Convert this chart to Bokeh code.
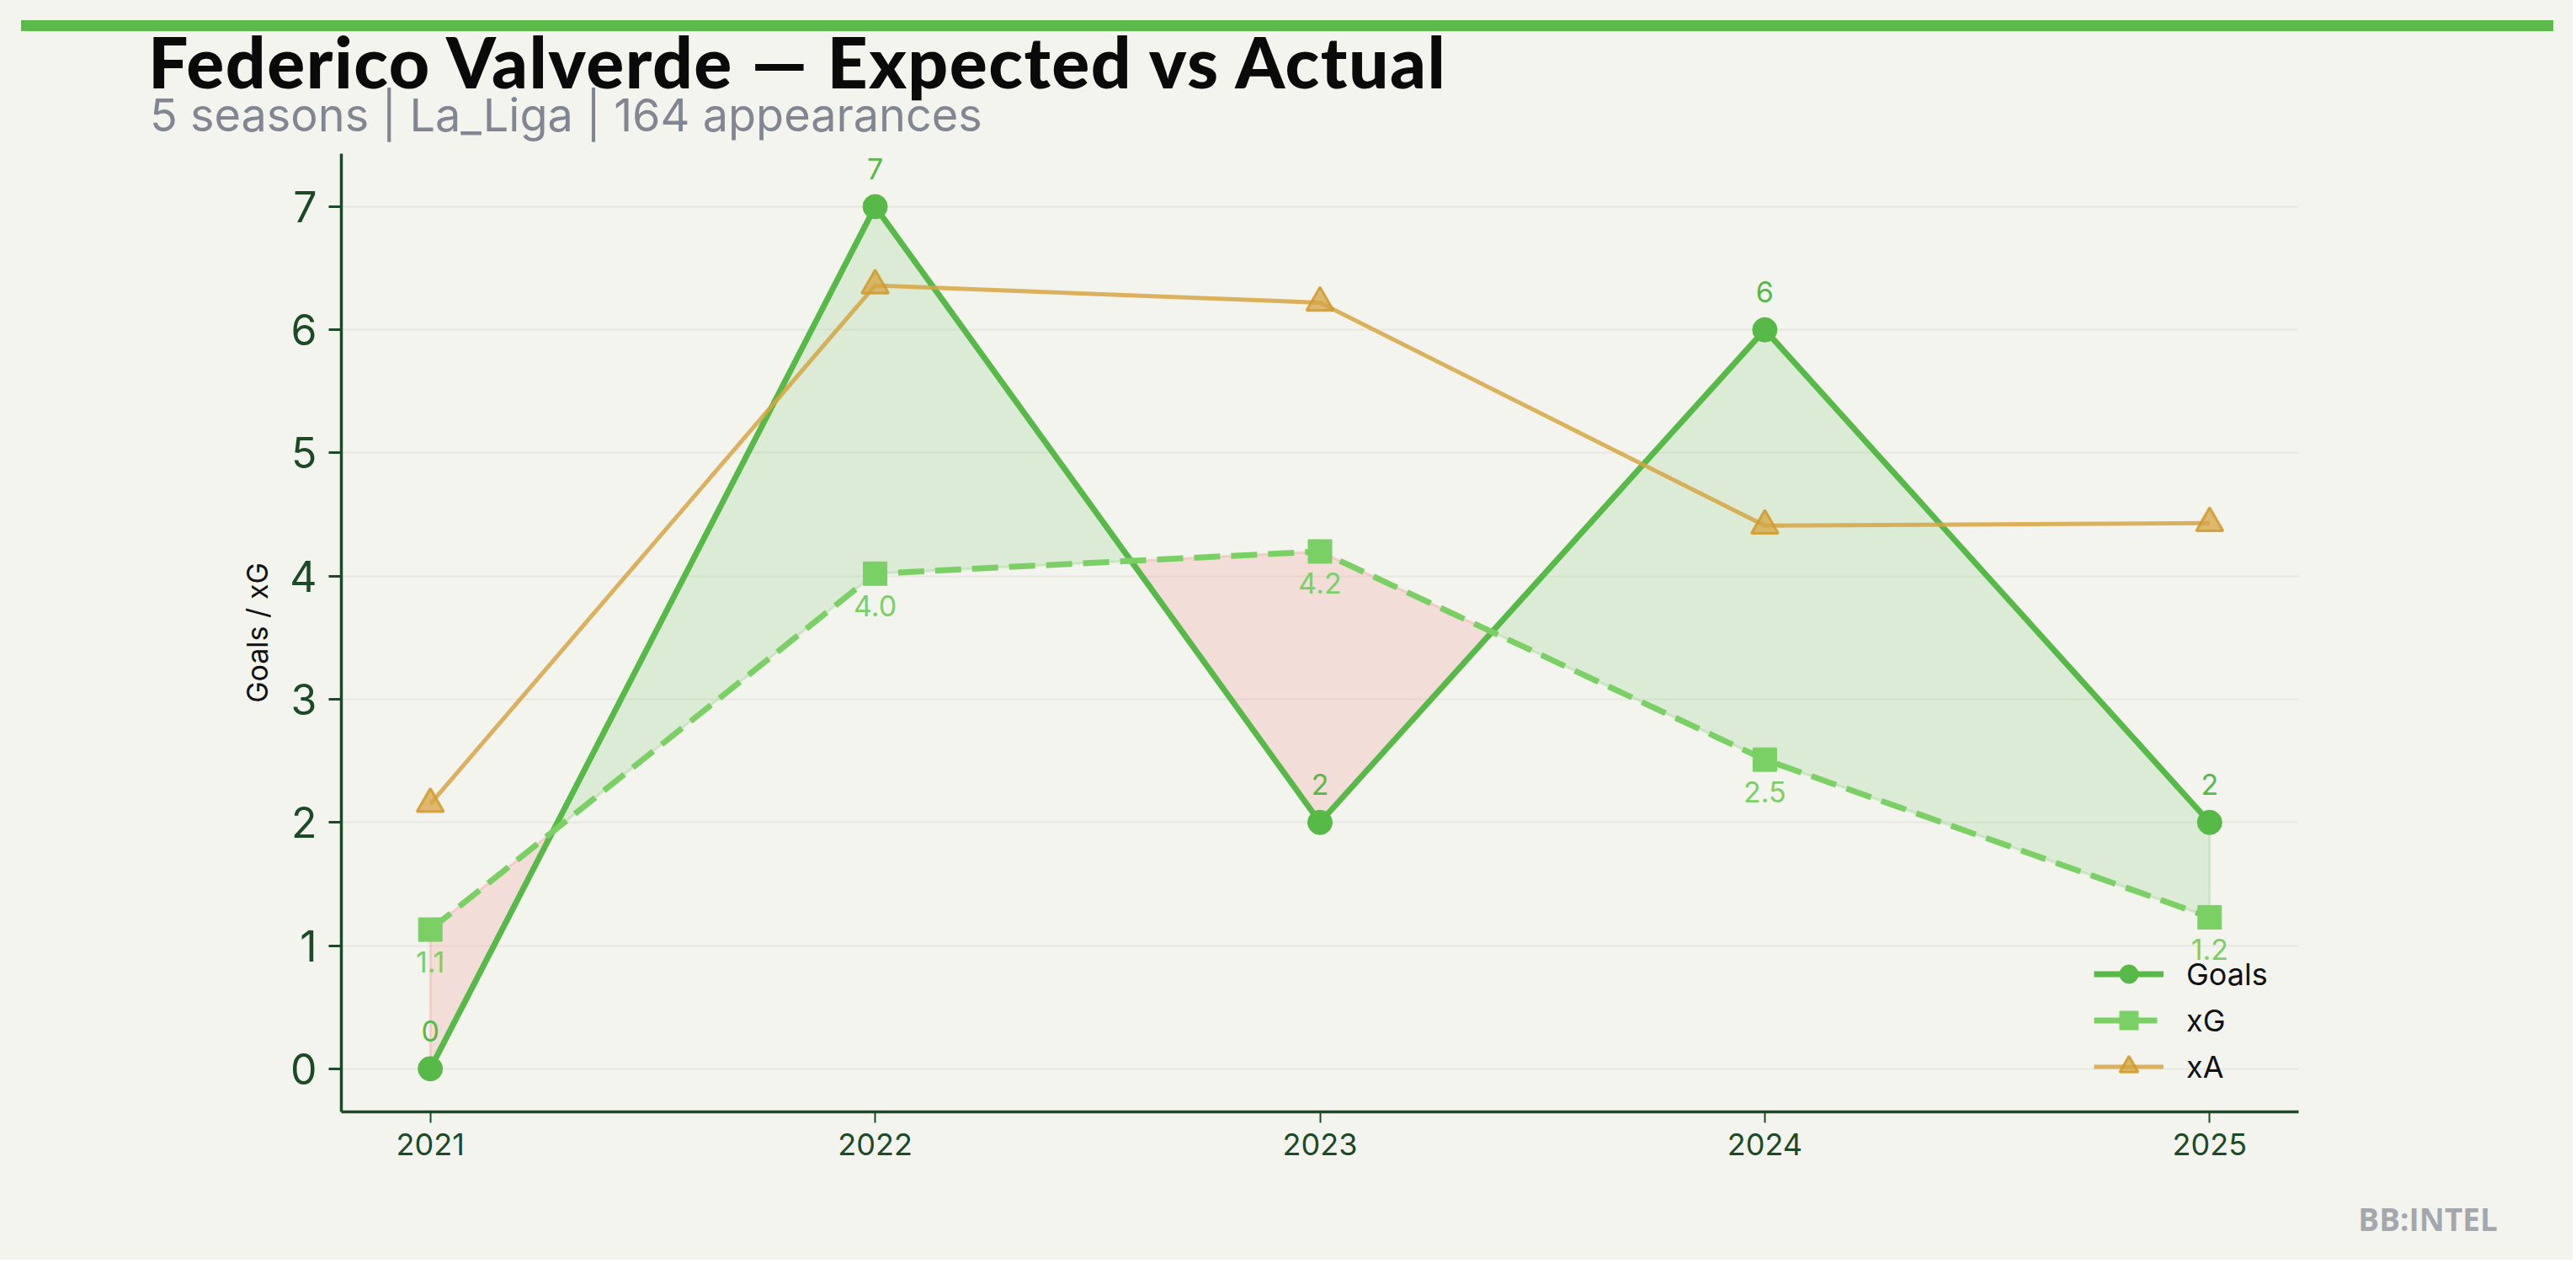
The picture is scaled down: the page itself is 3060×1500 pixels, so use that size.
from bokeh.plotting import figure
from bokeh.layouts import column
from bokeh.models import (ColumnDataSource, Range1d, LabelSet, Legend,
                          LegendItem, FixedTicker, Div)
from bokeh.core.properties import value
from bokeh.embed import file_html
from bokeh.resources import INLINE

# ---- data ----
seasons = [2021, 2022, 2023, 2024, 2025]
goals = [0, 7, 2, 6, 2]
xg = [1.13, 4.02, 4.20, 2.51, 1.23]
xa = [2.15, 6.36, 6.22, 4.41, 4.43]
goal_labels = [str(g) for g in goals]
xg_labels = [f"{v:.1f}" for v in xg]
y_ticks = [0, 1, 2, 3, 4, 5, 6, 7]

title_text = "Federico Valverde \u2014 Expected vs Actual"
subtitle_text = "5 seasons | La_Liga | 164 appearances"
watermark_text = "BB:INTEL"

BG = "#f4f4ef"
GREEN = "#57b947"
XG_C = "#7bd065"
XA_C = "#d6a443"
RED = "#f0605a"
DARK = "#1b4a26"


def regions(xs, a, b):
    pts = []
    n = len(xs)
    for i in range(n):
        pts.append((xs[i], a[i], b[i], False))
        if i < n - 1:
            d0 = a[i] - b[i]
            d1 = a[i + 1] - b[i + 1]
            if d0 * d1 < 0:
                t = d0 / (d0 - d1)
                xc = xs[i] + t * (xs[i + 1] - xs[i])
                yc = a[i] + t * (a[i + 1] - a[i])
                pts.append((xc, yc, yc, True))
    runs, cur, sign = [], [], None
    for x, ya, yb, cross in pts:
        cur.append((x, ya, yb))
        if cross:
            runs.append((cur, sign))
            cur, sign = [(x, ya, yb)], None
        elif sign is None:
            sign = ya >= yb
    runs.append((cur, sign))
    pos, neg = ([], []), ([], [])
    for run, s in runs:
        px = [r[0] for r in run] + [r[0] for r in reversed(run)]
        py = [r[1] for r in run] + [r[2] for r in reversed(run)]
        tgt = pos if s else neg
        tgt[0].append(px)
        tgt[1].append(py)
    return pos, neg


TOTAL_W, TOTAL_H = 3056, 1496
HEAD_H = 170
P_END = 1410
FOOT_H = TOTAL_H - P_END
W, H = TOTAL_W, P_END - HEAD_H
FRAME_TOP, FRAME_BOTTOM = 182 - HEAD_H, 1320 - HEAD_H

p = figure(width=W, height=H, output_backend="svg", toolbar_location=None,
           x_range=Range1d(2020.8, 2025.2), y_range=Range1d(-0.35, 7.43),
           min_border_left=405, min_border_right=W - 2730,
           min_border_top=FRAME_TOP, min_border_bottom=H - FRAME_BOTTOM,
           background_fill_color=BG, border_fill_color=BG)
p.outline_line_color = None

pos, neg = regions(seasons, goals, xg)
p.patches(xs=pos[0], ys=pos[1], fill_color=GREEN, fill_alpha=0.15,
          line_color=GREEN, line_alpha=0.18, line_width=3)
p.patches(xs=neg[0], ys=neg[1], fill_color=RED, fill_alpha=0.15,
          line_color=RED, line_alpha=0.18, line_width=3)

src = ColumnDataSource(dict(season=seasons, goals=goals, xg=xg, xa=xa,
                            gl=goal_labels, xl=xg_labels))

r_gl = p.line("season", "goals", source=src, line_color=GREEN, line_width=7)
r_gm = p.scatter("season", "goals", source=src, marker="circle", size=29,
                 fill_color=GREEN, line_color=GREEN)
r_xl = p.line("season", "xg", source=src, line_color=XG_C, line_width=7,
              line_dash="31 13")
r_xm = p.scatter("season", "xg", source=src, marker="square", size=28,
                 fill_color=XG_C, line_color=XG_C)
r_al = p.line("season", "xa", source=src, line_color=XA_C, line_alpha=0.85,
              line_width=5)
r_am = p.scatter("season", "xa", source=src, marker="triangle", size=32,
                 fill_color=XA_C, fill_alpha=0.75, line_color="#d09a2a",
                 line_alpha=0.85, line_width=3)

p.add_layout(LabelSet(x="season", y="goals", text="gl", source=src,
                      y_offset=45, text_align="center", text_baseline="middle",
                      text_font=value("Inter"), text_font_size=value("34px"),
                      text_color=GREEN))
p.add_layout(LabelSet(x="season", y="xg", text="xl", source=src,
                      y_offset=-38, text_align="center", text_baseline="middle",
                      text_font=value("Inter"), text_font_size=value("34px"),
                      text_color=XG_C))

# axes
p.xaxis.ticker = FixedTicker(ticks=seasons)
p.yaxis.ticker = FixedTicker(ticks=y_ticks)
for ax in (p.xaxis[0], p.yaxis[0]):
    ax.axis_line_color = DARK
    ax.axis_line_width = 3.5
    ax.major_tick_line_color = DARK
    ax.minor_tick_line_color = None
    ax.major_tick_in = 0
    ax.major_label_text_color = DARK
    ax.major_label_text_font = "Inter"
p.xaxis.major_tick_out = 13
p.xaxis.major_tick_line_width = 2
p.xaxis.major_label_text_font_size = "36px"
p.xaxis.major_label_standoff = 12
p.yaxis.major_tick_out = 15
p.yaxis.major_tick_line_width = 3
p.yaxis.major_label_text_font_size = "50px"
p.yaxis.major_label_standoff = 14
p.yaxis.axis_label = "Goals / xG"
p.yaxis.axis_label_text_font = "Inter"
p.yaxis.axis_label_text_font_style = "normal"
p.yaxis.axis_label_text_font_size = "34px"
p.yaxis.axis_label_text_color = "#111111"
p.yaxis.axis_label_standoff = 15

p.xgrid.visible = False
p.ygrid.grid_line_color = "#e8e8e1"
p.ygrid.grid_line_width = 2

legend = Legend(items=[LegendItem(label="Goals", renderers=[r_gl, r_gm]),
                       LegendItem(label="xG", renderers=[r_xl, r_xm]),
                       LegendItem(label="xA", renderers=[r_al, r_am])],
                location=(2082, 26), orientation="vertical",
                glyph_width=83, glyph_height=55, spacing=0,
                label_height=55,
                label_text_font="Inter", label_text_font_size="36px",
                label_text_color="#111111", label_standoff=27,
                border_line_alpha=0, background_fill_alpha=0,
                padding=0, margin=0)
p.add_layout(legend)

# header: accent bar, title and subtitle
header_html = (
    f'<div style="position:relative;width:{W}px;height:{HEAD_H}px;">'
    '<div style="position:absolute;left:25px;top:24px;width:3008px;'
    'height:13px;background:#5bba4a;"></div>'
    '<div style="position:absolute;left:176px;top:35px;white-space:nowrap;'
    'font-family:Lato;font-weight:900;font-size:84px;line-height:0.9;'
    f'letter-spacing:1.5px;color:#0a0a0a;">{title_text}</div>'
    '<div style="position:absolute;left:178px;top:113px;white-space:nowrap;'
    'font-family:Inter;font-weight:400;font-size:54px;line-height:0.9;'
    f'color:#818692;">{subtitle_text}</div>'
    '</div>'
)
header = Div(text=header_html, width=W, height=HEAD_H, margin=(0, 0, 0, 0),
             styles={"background-color": BG})

# footer: watermark
footer_html = (
    f'<div style="position:relative;width:{W}px;height:{FOOT_H}px;">'
    f'<div style="position:absolute;right:{W - 2967}px;top:19px;'
    'white-space:nowrap;font-family:\'Open Sans\';font-weight:700;'
    f'font-size:37px;line-height:1;color:#a4a7ae;">{watermark_text}</div>'
    '</div>'
)
footer = Div(text=footer_html, width=W, height=FOOT_H, margin=(0, 0, 0, 0),
             styles={"background-color": BG})

layout = column(header, p, footer, spacing=0,
                styles={"background-color": BG})

open("out.html", "w").write(file_html(layout, INLINE))
